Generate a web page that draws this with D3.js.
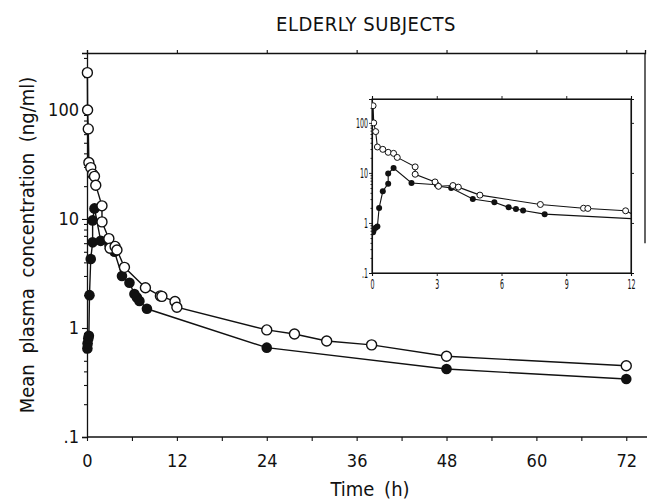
<!DOCTYPE html>
<html>
<head>
<meta charset="utf-8">
<script src="https://cdn.jsdelivr.net/npm/d3@7"></script>
<style>
  body { margin: 0; background: #fff; }
  text { font-family: "DejaVu Sans Condensed", "DejaVu Sans", sans-serif; fill: #111; }
</style>
</head>
<body>
<svg width="647" height="504"></svg>
<script>
// open circles
var openTime = [0.05, 0.08, 0.17, 0.25, 0.5, 0.75, 1.0, 1.17, 2.0, 2.0, 2.92, 3.08, 3.75, 4.0, 5.0, 7.8, 9.8, 10.0, 11.75, 12.0, 24, 27.7, 32, 38, 48, 72];
var openConc = [220, 100, 67, 33, 29.6, 25.8, 24.6, 20.4, 13.2, 9.4, 6.6, 5.4, 5.6, 5.2, 3.6, 2.34, 1.97, 1.95, 1.75, 1.55, 0.96, 0.88, 0.76, 0.70, 0.55, 0.45];
// filled circles
var filledTime = [0.05, 0.08, 0.17, 0.25, 0.33, 0.5, 0.75, 0.75, 1.0, 1.83, 3.0, 3.08, 3.67, 4.67, 5.67, 6.33, 6.67, 7.0, 8.0, 24, 48, 72];
var filledConc = [0.65, 0.72, 0.8, 0.85, 2.0, 4.3, 6.1, 9.7, 12.5, 6.3, 5.8, 5.4, 5.0, 3.0, 2.6, 2.05, 1.9, 1.77, 1.5, 0.66, 0.42, 0.34];

var mainXTicks = [0, 6, 12, 18, 24, 30, 36, 42, 48, 54, 60, 66, 72];
var mainTopTicks = [0, 12, 24, 36, 48, 60, 72];
var insetXTicks = [0, 3, 6, 9, 12];
var yMajor = [0.1, 1, 10, 100];

var titleText = "ELDERLY SUBJECTS";
var xTitle = "Time (h)";
var yTitle = "Mean plasma concentration (ng/ml)";

var open = openTime.map(function(t, i) { return {t: t, c: openConc[i]}; });
var filled = filledTime.map(function(t, i) { return {t: t, c: filledConc[i]}; });

var svg = d3.select("svg");
var fmtY = function(d) { return d === 0.1 ? ".1" : String(d); };

// ---------- main plot ----------
var x = d3.scaleLinear().domain([0, 74.5]).range([87, 645]);
var y = d3.scaleLog().domain([0.1, 333]).range([437, 53]);
var isMajor = function(d) { return yMajor.indexOf(d) >= 0; };

var yAxis = svg.append("g").attr("transform", "translate(87,0)")
  .call(d3.axisLeft(y).tickValues(y.ticks()).tickSize(5).tickPadding(3)
    .tickFormat(function(d) { return isMajor(d) ? fmtY(d) : ""; }));
yAxis.selectAll(".tick line").attr("x2", function(d) { return isMajor(d) ? -5 : -3; });

var xAxis = svg.append("g").attr("transform", "translate(0,437)")
  .call(d3.axisBottom(x).tickValues(mainXTicks).tickSize(4).tickPadding(13)
    .tickFormat(function(d) { return d % 12 === 0 ? d : ""; }));

svg.append("g").attr("transform", "translate(0,53)")
  .call(d3.axisTop(x).tickValues(mainTopTicks).tickSize(3).tickFormat(""));

[yAxis, xAxis].forEach(function(a) {
  a.selectAll("text").style("font-size", "18px");
});
svg.selectAll(".domain").attr("stroke", "#111").attr("stroke-width", 1.3);
svg.selectAll(".tick line").attr("stroke", "#111").attr("stroke-width", 1.1);
xAxis.select(".domain").attr("d", "M87,0H647");

// partial right frame
svg.append("line").attr("x1", x(74.5)).attr("x2", x(74.5))
  .attr("y1", y(333)).attr("y2", y(6)).attr("stroke", "#111").attr("stroke-width", 1.3);

var line = d3.line().x(function(d) { return x(d.t); }).y(function(d) { return y(d.c); });
svg.append("path").datum(open).attr("d", line)
  .attr("fill", "none").attr("stroke", "#111").attr("stroke-width", 1.4);
svg.append("path").datum(filled).attr("d", line)
  .attr("fill", "none").attr("stroke", "#111").attr("stroke-width", 1.4);

svg.append("g").selectAll("circle").data(filled).enter().append("circle")
  .attr("cx", function(d) { return x(d.t); }).attr("cy", function(d) { return y(d.c); })
  .attr("r", 5.3).attr("fill", "#111");
svg.append("g").selectAll("circle").data(open).enter().append("circle")
  .attr("cx", function(d) { return x(d.t); }).attr("cy", function(d) { return y(d.c); })
  .attr("r", 5).attr("fill", "#fff").attr("stroke", "#111").attr("stroke-width", 1.4);

// titles
svg.append("text").attr("x", 366).attr("y", 31).attr("text-anchor", "middle")
  .style("font-size", "20px").style("letter-spacing", "0.5px").text(titleText);
svg.append("text").attr("x", 370).attr("y", 496).attr("text-anchor", "middle")
  .style("font-size", "20px").style("word-spacing", "4px").text(xTitle);
svg.append("text").attr("transform", "translate(34,245) rotate(-90)").attr("text-anchor", "middle")
  .style("font-size", "20px").style("word-spacing", "5px").text(yTitle);

// ---------- inset ----------
var ix = d3.scaleLinear().domain([0, 12]).range([372, 631]);
var iy = d3.scaleLog().domain([0.1, 300]).range([273, 99]);
var inset = svg.append("g");
inset.append("rect").attr("x", 372).attr("y", 99).attr("width", 259).attr("height", 174)
  .attr("fill", "#fff").attr("stroke", "#111").attr("stroke-width", 1.1);

var iyAxis = inset.append("g").attr("transform", "translate(372,0)")
  .call(d3.axisLeft(iy).tickValues(iy.ticks()).tickSize(3).tickPadding(1)
    .tickFormat(function(d) { return isMajor(d) ? fmtY(d) : ""; }));
iyAxis.selectAll(".tick line").attr("x2", function(d) { return isMajor(d) ? -3 : -1.5; });
var ixAxis = inset.append("g").attr("transform", "translate(0,273)")
  .call(d3.axisBottom(ix).tickValues(insetXTicks).tickSize(3).tickPadding(3));
inset.append("g").attr("transform", "translate(0,99)")
  .call(d3.axisTop(ix).tickValues(insetXTicks).tickSize(3).tickFormat(""));
inset.append("g").attr("transform", "translate(631,0)")
  .call(d3.axisRight(iy).tickValues(yMajor).tickSize(3).tickFormat(""));
inset.selectAll(".domain").attr("stroke", "#111").attr("stroke-width", 1.1);
inset.selectAll(".tick line").attr("stroke", "#111").attr("stroke-width", 0.9);
[iyAxis, ixAxis].forEach(function(a) {
  a.selectAll("text").style("font-size", "14px")
    .attr("transform", function() { return "scale(0.5,1)"; })
    .attr("x", function() { var v = +d3.select(this).attr("x") || 0; return v * 2; });
});

var iline = d3.line().x(function(d) { return ix(d.t); }).y(function(d) { return iy(d.c); });
var inClip = inset.append("clipPath").attr("id", "inclip").append("rect")
  .attr("x", 372).attr("y", 99).attr("width", 259).attr("height", 174);
var inData = inset.append("g").attr("clip-path", "url(#inclip)");
inData.append("path").datum(open).attr("d", iline)
  .attr("fill", "none").attr("stroke", "#111").attr("stroke-width", 1.1);
inData.append("path").datum(filled).attr("d", iline)
  .attr("fill", "none").attr("stroke", "#111").attr("stroke-width", 1.1);
inData.append("g").selectAll("circle").data(filled.filter(function(d) { return d.t <= 12; }))
  .enter().append("circle")
  .attr("cx", function(d) { return ix(d.t); }).attr("cy", function(d) { return iy(d.c); })
  .attr("r", 3).attr("fill", "#111");
inData.append("g").selectAll("circle").data(open.filter(function(d) { return d.t < 12; }))
  .enter().append("circle")
  .attr("cx", function(d) { return ix(d.t); }).attr("cy", function(d) { return iy(d.c); })
  .attr("r", 3).attr("fill", "#fff").attr("stroke", "#111").attr("stroke-width", 1);
</script>
</body>
</html>
